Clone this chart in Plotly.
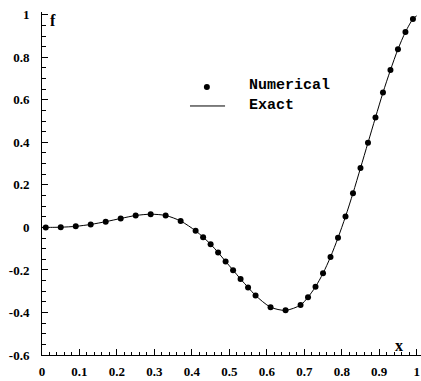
import plotly.graph_objects as go

# Numerical solution samples (cell-centred x)
num_x = [0.01, 0.05, 0.09, 0.13, 0.17, 0.21, 0.25, 0.29, 0.33, 0.37,
         0.41, 0.43, 0.45, 0.47, 0.49, 0.51, 0.53, 0.55, 0.57,
         0.61, 0.65, 0.69, 0.71, 0.73, 0.75, 0.77, 0.79, 0.81, 0.83,
         0.85, 0.87, 0.89, 0.91, 0.93, 0.95, 0.97, 0.99]
num_f = [0.000, 0.001, 0.005, 0.014, 0.027, 0.042, 0.056, 0.062, 0.056, 0.030,
         -0.016, -0.046, -0.079, -0.118, -0.160, -0.201, -0.243, -0.282, -0.320,
         -0.375, -0.390, -0.365, -0.328, -0.279, -0.216, -0.139, -0.049, 0.051, 0.161,
         0.279, 0.398, 0.517, 0.634, 0.740, 0.838, 0.919, 0.980]

# Exact solution, same abscissae plus both end points
exact_x = [0.0] + num_x + [1.0]
exact_f = [0.0] + num_f + [0.995]

x_tick_vals = [0, 0.1, 0.2, 0.3, 0.4, 0.5, 0.6, 0.7, 0.8, 0.9, 1.0]
x_tick_text = ["0", "0.1", "0.2", "0.3", "0.4", "0.5", "0.6", "0.7", "0.8", "0.9", "1"]
y_tick_vals = [-0.6, -0.4, -0.2, 0, 0.2, 0.4, 0.6, 0.8, 1.0]
y_tick_text = ["-0.6", "-0.4", "-0.2", "0", "0.2", "0.4", "0.6", "0.8", "1"]
legend_labels = ["Numerical", "Exact"]

SERIF = "Liberation Serif, Times New Roman, serif"
MONO = "Liberation Mono, Courier New, monospace"

fig = go.Figure()
fig.add_trace(go.Scatter(
    x=exact_x, y=exact_f, mode="lines",
    line=dict(color="black", width=1, shape="spline", smoothing=0.8),
    showlegend=False, hoverinfo="skip"))
fig.add_trace(go.Scatter(
    x=num_x, y=num_f, mode="markers",
    marker=dict(color="black", size=6, line=dict(width=0)),
    showlegend=False))

axis_common = dict(
    showgrid=False, zeroline=False, showline=True,
    linecolor="black", linewidth=1,
    ticks="inside", ticklen=6, tickwidth=1, tickcolor="black",
    tickfont=dict(family=SERIF, size=13, color="black", weight="bold"),
)

fig.update_layout(
    width=421, height=381,
    margin=dict(l=42, r=0, t=12, b=26),
    paper_bgcolor="white", plot_bgcolor="white",
    showlegend=False,
    xaxis=dict(range=[0, 1.0115], tickvals=x_tick_vals, ticktext=x_tick_text,
               minor=dict(dtick=0.02, tick0=0, ticks="inside", ticklen=3,
                          tickwidth=1, tickcolor="black"),
               ticklabelstandoff=4, **axis_common),
    yaxis=dict(range=[-0.6, 1.013], tickvals=y_tick_vals, ticktext=y_tick_text,
               minor=dict(dtick=0.05, tick0=0, ticks="inside", ticklen=3.5,
                          tickwidth=1, tickcolor="black"),
               ticklabelstandoff=9, **axis_common),
)

# Axis titles placed inside the frame
fig.add_annotation(text="f", xref="paper", yref="paper", x=0.03, y=0.975,
                   showarrow=False, xanchor="center", yanchor="middle",
                   font=dict(family=SERIF, size=16, color="black", weight="bold"))
fig.add_annotation(text="x", xref="paper", yref="paper", x=0.942, y=0.028,
                   showarrow=False, xanchor="center", yanchor="middle",
                   font=dict(family=SERIF, size=16, color="black", weight="bold"))

# Legend drawn by hand: symbols plus a two-line label block
fig.add_shape(type="circle", xref="paper", yref="paper",
              xsizemode="pixel", ysizemode="pixel",
              xanchor=0.435, yanchor=0.781, x0=-3, x1=3, y0=-3, y1=3,
              fillcolor="black", line=dict(color="black", width=0))
fig.add_shape(type="line", xref="paper", yref="paper",
              x0=0.3905, x1=0.483, y0=0.726, y1=0.726,
              line=dict(color="black", width=1))
fig.add_annotation(text="<br>".join(legend_labels), xref="paper", yref="paper",
                   x=0.541, y=0.757, align="left",
                   showarrow=False, xanchor="left", yanchor="middle",
                   font=dict(family=MONO, size=15, color="black", weight="bold"))

fig.write_html("out.html")
